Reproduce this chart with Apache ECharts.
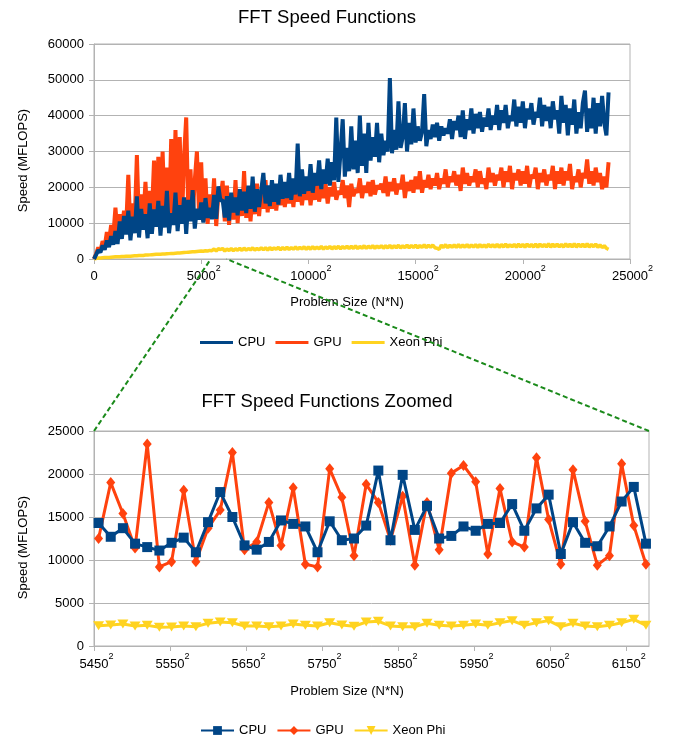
<!DOCTYPE html>
<html><head><meta charset="utf-8">
<script src="https://cdn.jsdelivr.net/npm/echarts@6/dist/echarts.min.js"></script>
<style>html,body{margin:0;padding:0;background:#fff}#c{width:675px;height:742px}</style>
</head><body><div id="c"></div>
<script>
// ---------- DATA ----------
const seriesNames = ['CPU', 'GPU', 'Xeon Phi'];
const topTitle = 'FFT Speed Functions';
const zoomTitle = 'FFT Speed Functions Zoomed';
const xName = 'Problem Size (N*N)';
const yName = 'Speed (MFLOPS)';

// top chart: N from 0 to 24000, step 100
const topStartN = 0;
const topStepN = 100;
const topCpu = [
  0, 1200, 2500, 1800, 3800, 2600, 5200, 3300, 6400, 4000,
  7800, 4200, 10500, 5600, 12000, 6800, 13500, 5200, 11800, 7200,
  17500, 6000, 14000, 8200, 12500, 5800, 15500, 7000, 13800, 9000,
  16200, 6500, 14800, 8800, 19000, 7200, 12800, 9500, 18500, 7800,
  15000, 9800, 17200, 7000, 16500, 10500, 19200, 8500, 14000, 11000,
  15800, 10200, 17000, 11500, 14300, 11100, 17900, 11200, 20300, 16200,
  16500, 11600, 17500, 10700, 18500, 13000, 17200, 12200, 19500, 13500,
  18800, 12800, 20500, 14000, 23000, 13200, 19500, 14500, 19200, 24000,
  15500, 20500, 14800, 22000, 16000, 21000, 15200, 23500, 16800, 21500,
  17000, 24000, 16500, 22500, 18000, 32200, 17500, 25000, 18200, 23000,
  19000, 26500, 18500, 24000, 20500, 27500, 19500, 25000, 21000, 28000,
  20500, 27000, 22000, 39500, 21500, 30000, 39000, 23000, 31000, 24500,
  37000, 25000, 33000, 24000, 40000, 26000, 35000, 24000, 38000, 27500,
  34000, 28500, 38000, 27000, 35000, 29000, 33000, 30000, 50500, 29500,
  36000, 30500, 44000, 31000, 34000, 43500, 30000, 38000, 32000, 42000,
  32500, 37000, 33000, 35500, 46000, 31500, 36000, 33500, 37500, 34000,
  38000, 33000, 37000, 34500, 36500, 35000, 39000, 33500, 38500, 36000,
  40000, 34000, 41500, 33500, 39000, 36000, 42000, 35000, 40500, 36500,
  41000, 35500, 39500, 37000, 42000, 36000, 40000, 37500, 43000, 36000,
  41500, 38000, 43000, 36500, 40000, 38500, 44500, 37000, 42500, 38000,
  44000, 36500, 42000, 39000, 43500, 37500, 41000, 39500, 45000, 37000,
  43000, 38500, 42500, 36500, 44000, 39000, 41500, 35000, 45500, 38000,
  43000, 34500, 42000, 37500, 44500, 35000, 41000, 36500, 43500, 47000,
  35500, 42000, 36500, 45000, 35000, 43500, 37000, 45500, 38000, 34500,
  46500
];
const topGpu = [
  0, 1500, 3200, 2200, 5000, 3500, 7500, 5000, 9500, 6500,
  14300, 7000, 12500, 8500, 13500, 9000, 23500, 8000, 15500, 10500,
  29000, 9500, 18000, 11000, 21500, 10000, 19000, 12500, 27500, 11000,
  28500, 10500, 30000, 12000, 25500, 9500, 33500, 11500, 36000, 13000,
  34000, 10000, 28500, 39500, 12000, 25000, 11000, 22000, 30000, 12500,
  27000, 10500, 22500, 9800, 18000, 12500, 22500, 9200, 18000, 16700,
  21800, 10500, 20500, 9500, 18000, 11000, 22000, 10000, 19500, 12000,
  24500, 11500, 20000, 10500, 18500, 12500, 21000, 12000, 19000, 14000,
  22000, 13000, 19500, 14000, 20500, 13500, 19000, 15000, 20000, 14500,
  19000, 15500, 20500, 14500, 21000, 16000, 19500, 15000, 20000, 16500,
  21000, 15000, 20500, 16500, 22000, 16000, 19500, 17000, 21000, 15500,
  20000, 17500, 21500, 16500, 19000, 18000, 22000, 17000, 20500, 14500,
  21000, 17500, 19500, 18500, 22500, 17000, 20500, 18500, 21500, 17500,
  22000, 18000, 20500, 19500, 21000, 18500, 23000, 17500, 21500, 19000,
  22500, 18000, 21000, 19500, 23500, 17000, 21500, 19000, 22000, 18500,
  23000, 19500, 24500, 18500, 22000, 20000, 23500, 19500, 22500, 20500,
  24000, 19500, 22500, 21000, 25000, 20000, 23000, 21500, 24500, 20500,
  23500, 19000, 25500, 21000, 24000, 20500, 23000, 21500, 25000, 20000,
  24500, 21000, 22500, 19500, 25500, 21500, 24000, 20500, 23500, 22000,
  25500, 20000, 24500, 21500, 26000, 19500, 24000, 22000, 25000, 20500,
  24500, 21000, 26000, 20000, 23500, 22500, 25500, 19500, 24000, 21500,
  25000, 20500, 23500, 22000, 26000, 19500, 24500, 21000, 25500, 20500,
  24500, 22000, 26500, 19500, 23000, 21500, 25000, 20000, 24000, 22500,
  27800, 21000, 24500, 20500, 25500, 21500, 24000, 19500, 23000, 20000,
  27000
];
const topXeon = [
  0, 150, 250, 300, 350, 400, 450, 450, 500, 550,
  600, 600, 650, 700, 700, 750, 800, 800, 850, 900,
  900, 950, 1000, 1000, 1100, 1100, 1150, 1200, 1250, 1300,
  1300, 1350, 1400, 1400, 1450, 1500, 1550, 1550, 1600, 1650,
  1700, 1750, 1800, 1850, 1900, 1950, 2000, 2050, 2100, 2150,
  2200, 2150, 2300, 2250, 2400, 2330, 2790, 2250, 2870, 2640,
  2950, 2200, 2800, 2350, 2900, 2300, 2850, 2450, 3000, 2400,
  3050, 2450, 2900, 2550, 3100, 2500, 2950, 2600, 3150, 2550,
  3150, 2500, 3200, 2600, 3100, 2700, 3250, 2550, 3200, 2650,
  3300, 2650, 3200, 2750, 3350, 2700, 3250, 2800, 3400, 2700,
  3350, 2750, 3450, 2800, 3300, 2850, 3500, 2750, 3400, 2900,
  3500, 2800, 3450, 2900, 3550, 2850, 3500, 2950, 3600, 2900,
  3550, 2950, 3650, 2900, 3500, 3000, 3700, 2950, 3600, 3050,
  3700, 3000, 3650, 3100, 3750, 3000, 3700, 3100, 3800, 3050,
  3750, 3100, 3850, 3050, 3700, 3150, 3850, 3100, 3800, 3200,
  3900, 3100, 3800, 3200, 3950, 3150, 3850, 3250, 3900, 3150,
  3000, 2700, 3900, 3200, 4000, 3150, 3850, 3250, 3950, 3200,
  4000, 3250, 3900, 3300, 4050, 3200, 3950, 3300, 4000, 3250,
  4050, 3300, 3950, 3250, 4100, 3350, 4000, 3300, 4100, 3250,
  4050, 3350, 4150, 3300, 4000, 3400, 4100, 3300, 4150, 3350,
  4100, 3300, 4200, 3400, 4050, 3350, 4150, 3300, 4200, 3400,
  4100, 3350, 4250, 3300, 4150, 3400, 4200, 3350, 4100, 3300,
  4250, 3400, 4150, 3350, 4300, 3300, 4200, 3400, 4150, 3350,
  4250, 3300, 4100, 3400, 4200, 3250, 3950, 3200, 3700, 3000,
  2700
];

// zoomed chart
const zoomN = [
  5456, 5472, 5488, 5504, 5520, 5536, 5552, 5568, 5584, 5600,
  5616, 5632, 5648, 5664, 5680, 5696, 5712, 5728, 5744, 5760,
  5776, 5792, 5808, 5824, 5840, 5856, 5872, 5888, 5904, 5920,
  5936, 5952, 5968, 5984, 6000, 6016, 6032, 6048, 6064, 6080,
  6096, 6112, 6128, 6144, 6160, 6176
];
const zoomCpu = [
  14300, 12700, 13700, 11900, 11500, 11100, 12000, 12600, 10900, 14400,
  17900, 15000, 11700, 11200, 12100, 14600, 14200, 13900, 10900, 14500,
  12300, 12500, 14000, 20400, 12300, 19900, 13500, 16300, 12500, 12800,
  13900, 13400, 14200, 14300, 16500, 13400, 16000, 17600, 10700, 14400,
  12000, 11600, 13900, 16800, 18500, 11900
];
const zoomGpu = [
  12500, 19000, 15400, 11400, 23500, 9200, 9800, 18100, 9800, 13700,
  15800, 22500, 11200, 12100, 16700, 11700, 18400, 9500, 9200, 20600,
  17300, 10500, 18800, 16700, 12300, 17400, 9400, 16700, 11200, 20100,
  21000, 19100, 10700, 18300, 12100, 11500, 21900, 14700, 9500, 20500,
  14500, 9400, 10500, 21200, 14000, 9500
];
const zoomXeon = [
  2360, 2440, 2560, 2330, 2400, 2170, 2210, 2330, 2250, 2640,
  2790, 2710, 2330, 2330, 2250, 2330, 2560, 2400, 2330, 2710,
  2440, 2290, 2790, 2870, 2330, 2250, 2250, 2640, 2400, 2330,
  2400, 2560, 2400, 2710, 2950, 2400, 2710, 2950, 2250, 2640,
  2330, 2250, 2400, 2710, 3100, 2400
];

// axes
const topXTicks = [0, 5000, 10000, 15000, 20000, 25000];
const topYMax = 60000, topYStep = 10000;
const zoomXRange = [5450, 6180];
const zoomXTicks = [5450, 5550, 5650, 5750, 5850, 5950, 6050, 6150];
const zoomYMax = 25000, zoomYStep = 5000;

// ---------- STYLE ----------
const FONT = '"Liberation Sans", Arial, sans-serif';
const COLORS = ['#004586', '#ff420e', '#ffd320'];
const GRIDC = '#b3b3b3';
const ZSUF = ' (zoom)';

const topX = topCpu.map((_, i) => topStartN + i * topStepN);
const pair = (xs, ys) => ys.map((v, i) => [xs[i], v]);

const rich = {
  n: { fontSize: 13, lineHeight: 24, padding: [0, 0, 0, 5], fontFamily: FONT, color: '#000' },
  z: { fontSize: 13, lineHeight: 24, fontFamily: FONT, color: '#000' },
  s: { fontSize: 9, lineHeight: 9, verticalAlign: 'top', fontFamily: FONT, color: '#000' }
};
const supFmt = v => v === 0 ? '{z|0}' : '{n|' + v + '}{s|2}';

function xAxisCfg(gridIndex, min, max, ticks, nameGap, namePadR, margin) {
  return {
    type: 'value', gridIndex, min, max,
    name: xName, nameLocation: 'middle', nameGap,
    nameTextStyle: { fontFamily: FONT, fontSize: 13, color: '#000', padding: [0, namePadR, 0, 0] },
    axisLine: { show: true, lineStyle: { color: GRIDC, width: 1 } },
    axisTick: { show: true, length: 5, lineStyle: { color: GRIDC }, customValues: ticks },
    axisLabel: { margin, formatter: supFmt, rich, customValues: ticks },
    splitLine: { show: false }
  };
}
function yAxisCfg(gridIndex, max, step) {
  return {
    type: 'value', gridIndex, min: 0, max, interval: step,
    name: yName, nameLocation: 'middle', nameGap: 64,
    nameTextStyle: { fontFamily: FONT, fontSize: 13, color: '#000', padding: [0, 18, 0, 0] },
    axisLine: { show: true, lineStyle: { color: GRIDC, width: 1 } },
    axisTick: { show: true, length: 5, lineStyle: { color: GRIDC } },
    axisLabel: { margin: 10, fontFamily: FONT, fontSize: 13, color: '#000', formatter: v => String(v) },
    splitLine: { show: true, lineStyle: { color: GRIDC, width: 1 } }
  };
}

const topData = [topCpu, topGpu, topXeon];
const zoomData = [zoomCpu, zoomGpu, zoomXeon];
const symbols = ['rect', 'diamond', 'triangle'];
const symbolSizes = [10, [9, 11], [11, 9]];
const symbolRot = [0, 0, 180];
const zs = [5, 4, 3];
const topWidths = [4, 4, 3.5];

const series = [];
seriesNames.forEach((nm, k) => {
  series.push({
    name: nm, type: 'line', xAxisIndex: 0, yAxisIndex: 0,
    data: pair(topX, topData[k]), symbol: 'none', showSymbol: false,
    lineStyle: { color: COLORS[k], width: topWidths[k] }, itemStyle: { color: COLORS[k] },
    z: zs[k], animation: false
  });
});
seriesNames.forEach((nm, k) => {
  series.push({
    name: nm + ZSUF, type: 'line', xAxisIndex: 1, yAxisIndex: 1,
    data: pair(zoomN, zoomData[k]), symbol: symbols[k], symbolSize: symbolSizes[k],
    symbolRotate: symbolRot[k], showSymbol: true,
    lineStyle: { color: COLORS[k], width: 3 }, itemStyle: { color: COLORS[k] },
    z: zs[k], animation: false
  });
});

const legendText = { fontFamily: FONT, fontSize: 13, color: '#000' };

const option = {
  backgroundColor: '#fff',
  animation: false,
  title: [
    { text: topTitle, left: 322, top: 3, textAlign: 'center',
      textStyle: { fontFamily: FONT, fontSize: 18.5, fontWeight: 'normal', color: '#000' } },
    { text: zoomTitle, left: 322, top: 387, textAlign: 'center',
      textStyle: { fontFamily: FONT, fontSize: 18.5, fontWeight: 'normal', color: '#000' } }
  ],
  grid: [
    { left: 94, right: 45, top: 44, height: 215, show: true, borderColor: GRIDC, borderWidth: 1 },
    { left: 94, right: 26, top: 431, height: 215, show: true, borderColor: GRIDC, borderWidth: 1 }
  ],
  xAxis: [
    xAxisCfg(0, 0, 25000, topXTicks, 37, 30, 5),
    xAxisCfg(1, zoomXRange[0], zoomXRange[1], zoomXTicks, 39, 49, 6)
  ],
  yAxis: [
    yAxisCfg(0, topYMax, topYStep),
    yAxisCfg(1, zoomYMax, zoomYStep)
  ],
  legend: [
    { left: 195, top: 331, data: seriesNames.slice(), icon: 'rect',
      itemWidth: 33, itemHeight: 3, itemGap: 10, textStyle: legendText, selectedMode: false },
    { left: 195, top: 719, data: seriesNames.map(n => n + ZSUF),
      formatter: n => n.replace(ZSUF, ''),
      itemWidth: 33, itemHeight: 11, itemGap: 10, textStyle: legendText, selectedMode: false }
  ],
  series
};

const chart = echarts.init(document.getElementById('c'), null, { renderer: 'canvas' });
chart.setOption(option);

const a1 = chart.convertToPixel({ xAxisIndex: 1, yAxisIndex: 1 }, [zoomXRange[0], zoomYMax]);
const a2 = chart.convertToPixel({ xAxisIndex: 0, yAxisIndex: 0 }, [zoomXRange[0], 0]);
const b1 = chart.convertToPixel({ xAxisIndex: 1, yAxisIndex: 1 }, [zoomXRange[1], zoomYMax]);
const b2 = chart.convertToPixel({ xAxisIndex: 0, yAxisIndex: 0 }, [zoomXRange[1], 0]);
const dashStyle = { stroke: '#1a8a1a', lineWidth: 2, lineDash: [5, 3] };
chart.setOption({
  graphic: [
    { type: 'line', z: 100, shape: { x1: a1[0], y1: a1[1], x2: a2[0], y2: a2[1] }, style: dashStyle, silent: true },
    { type: 'line', z: 100, shape: { x1: b1[0], y1: b1[1], x2: b2[0], y2: b2[1] }, style: dashStyle, silent: true }
  ]
});
</script></body></html>
